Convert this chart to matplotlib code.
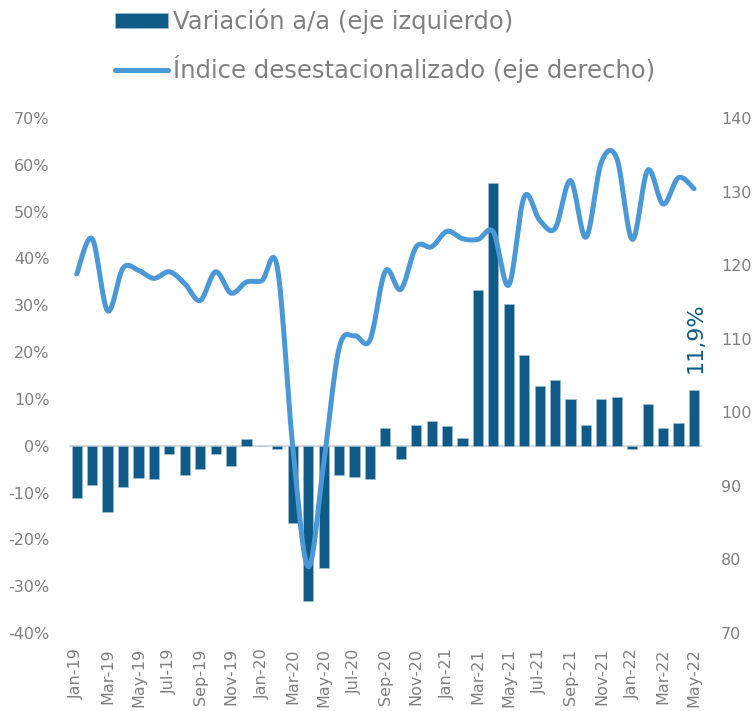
import numpy as np
import matplotlib
matplotlib.use("Agg")
from matplotlib import pyplot as plt

months = ['Jan-19', 'Feb-19', 'Mar-19', 'Apr-19', 'May-19', 'Jun-19', 'Jul-19', 'Aug-19',
          'Sep-19', 'Oct-19', 'Nov-19', 'Dec-19', 'Jan-20', 'Feb-20', 'Mar-20', 'Apr-20',
          'May-20', 'Jun-20', 'Jul-20', 'Aug-20', 'Sep-20', 'Oct-20', 'Nov-20', 'Dec-20',
          'Jan-21', 'Feb-21', 'Mar-21', 'Apr-21', 'May-21', 'Jun-21', 'Jul-21', 'Aug-21',
          'Sep-21', 'Oct-21', 'Nov-21', 'Dec-21', 'Jan-22', 'Feb-22', 'Mar-22', 'Apr-22',
          'May-22']

# variacion a/a (%)
yoy = [-11.2, -8.4, -14.2, -8.8, -6.8, -7.1, -1.7, -6.3, -4.9, -1.8, -4.3, 1.4,
       0.0, -0.6, -16.5, -33.2, -26.2, -6.3, -6.6, -7.0, 3.8, -2.9, 4.4, 5.3,
       4.3, 1.6, 33.3, 56.1, 30.3, 19.4, 12.7, 14.0, 10.0, 4.4, 10.0, 10.5,
       -0.7, 8.9, 3.8, 4.8, 11.9]

# indice desestacionalizado
index_sa = [118.8, 123.6, 113.8, 119.6, 119.3, 118.2, 119.1, 117.5, 115.2, 119.1, 116.2, 117.7,
            117.9, 119.7, 95.3, 79.0, 93.0, 108.7, 110.4, 109.8, 119.2, 116.7, 122.5, 122.5,
            124.6, 123.6, 123.5, 124.5, 117.3, 129.3, 126.1, 125.0, 131.5, 123.8, 134.0, 134.5,
            123.5, 132.9, 128.3, 131.9, 130.4]

left_ticks = [-40, -30, -20, -10, 0, 10, 20, 30, 40, 50, 60, 70]
right_ticks = [70, 80, 90, 100, 110, 120, 130, 140]

bar_col = '#0f5a87'
line_col = '#4b98d6'
txt_col = '#808080'


def smooth(x, y, n=20):
    # catmull-rom, like excel smoothed lines
    x = np.asarray(x, float)
    y = np.asarray(y, float)
    px = np.concatenate([[x[0]], x, [x[-1]]])
    py = np.concatenate([[y[0]], y, [y[-1]]])
    xs, ys = [], []
    t = np.linspace(0, 1, n, endpoint=False)
    for i in range(1, len(px) - 2):
        for p, out in ((px, xs), (py, ys)):
            p0, p1, p2, p3 = p[i - 1], p[i], p[i + 1], p[i + 2]
            out.append(0.5 * (2 * p1 + (-p0 + p2) * t + (2 * p0 - 5 * p1 + 4 * p2 - p3) * t ** 2
                              + (-p0 + 3 * p1 - 3 * p2 + p3) * t ** 3))
    xs.append([x[-1]])
    ys.append([y[-1]])
    return np.concatenate(xs), np.concatenate(ys)


x = np.arange(len(months))

fig = plt.figure(figsize=(7.55, 7.11), dpi=100)
ax = fig.add_axes([0.0914, 0.1097, 0.838, 0.7243])
ax2 = ax.twinx()

ax.axhline(0, color='#d9d9d9', lw=1.6, zorder=1)
bars = ax.bar(x, yoy, width=0.66, color=bar_col, edgecolor='#9ec3dc', linewidth=0.4, zorder=2,
              label='Variación a/a (eje izquierdo)')
sx, sy = smooth(x, index_sa)
line, = ax2.plot(sx, sy, color=line_col, lw=3.6, solid_capstyle='round',
                 label='Índice desestacionalizado (eje derecho)')

ax.set_xlim(-0.5, len(months) - 0.5)
ax.set_ylim(-40, 70)
ax2.set_ylim(70, 140)

ax.set_yticks(left_ticks)
ax.set_yticklabels([f'{v}%' for v in left_ticks])
ax2.set_yticks(right_ticks)
ax.set_xticks(x[::2])
ax.set_xticklabels(months[::2], rotation=90)

for a in (ax, ax2):
    for s in a.spines.values():
        s.set_visible(False)
ax.tick_params(axis='y', length=0, pad=14, labelsize=11.5, labelcolor=txt_col)
ax.tick_params(axis='x', length=0, pad=11, labelsize=11.5, labelcolor=txt_col)
ax2.tick_params(axis='y', length=0, pad=14, labelsize=11.5, labelcolor=txt_col)

ax.annotate('11,9%', xy=(x[-1], yoy[-1]), xytext=(1, 12), textcoords='offset points',
            rotation=90, ha='center', va='bottom', fontsize=16, color=bar_col)

fig.legend(handles=[bars, line], loc='upper left', bbox_to_anchor=(0.152, 0.988),
           frameon=False, fontsize=17.5, labelcolor=txt_col, handlelength=2.2,
           handleheight=0.6, handletextpad=0.2, labelspacing=0.85, borderpad=0,
           borderaxespad=0)

fig.savefig('out.png', dpi=100)
